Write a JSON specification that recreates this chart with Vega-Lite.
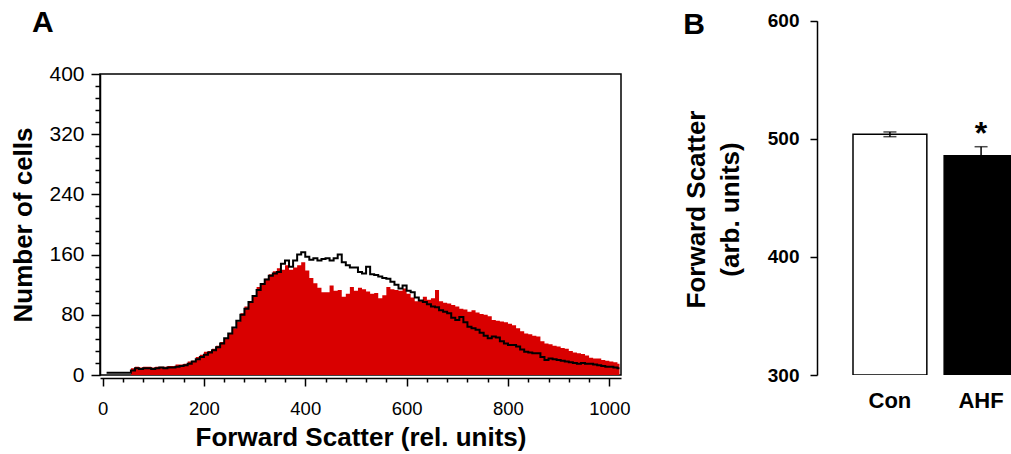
{
  "$schema": "https://vega.github.io/schema/vega-lite/v6.json",
  "padding": {"left": 10, "top": 7, "right": 0, "bottom": 0},
  "spacing": 52,
  "config": {
    "font": "Liberation Sans",
    "view": {"stroke": null},
    "axis": {"domainColor": "black", "tickColor": "black", "labelColor": "black", "titleColor": "black", "grid": false, "labelFont": "Liberation Sans", "titleFont": "Liberation Sans"},
    "title": {"font": "Liberation Sans", "fontSize": 30, "fontWeight": "bold", "color": "black", "anchor": "start", "baseline": "alphabetic"}
  },
  "datasets": {
    "con": [
      {"fsc":8,"cells":3},{"fsc":16,"cells":3},{"fsc":24,"cells":3},{"fsc":32,"cells":3},{"fsc":40,"cells":3},{"fsc":48,"cells":3},{"fsc":56,"cells":6},{"fsc":64,"cells":9},{"fsc":72,"cells":8},{"fsc":80,"cells":9},{"fsc":88,"cells":9},{"fsc":96,"cells":8},{"fsc":104,"cells":9},{"fsc":112,"cells":10},{"fsc":120,"cells":9},{"fsc":128,"cells":10},{"fsc":136,"cells":10},{"fsc":144,"cells":11},{"fsc":152,"cells":12},{"fsc":160,"cells":13},{"fsc":168,"cells":15},{"fsc":176,"cells":18},{"fsc":184,"cells":21},{"fsc":192,"cells":24},{"fsc":200,"cells":27},{"fsc":208,"cells":30},{"fsc":216,"cells":33},{"fsc":224,"cells":37},{"fsc":232,"cells":42},{"fsc":240,"cells":49},{"fsc":248,"cells":55},{"fsc":256,"cells":63},{"fsc":264,"cells":72},{"fsc":272,"cells":80},{"fsc":280,"cells":88},{"fsc":288,"cells":97},{"fsc":296,"cells":105},{"fsc":304,"cells":113},{"fsc":312,"cells":121},{"fsc":320,"cells":127},{"fsc":328,"cells":132},{"fsc":336,"cells":135},{"fsc":344,"cells":137},{"fsc":352,"cells":148},{"fsc":360,"cells":152},{"fsc":368,"cells":144},{"fsc":376,"cells":152},{"fsc":384,"cells":160},{"fsc":392,"cells":163},{"fsc":400,"cells":157},{"fsc":408,"cells":153},{"fsc":416,"cells":155},{"fsc":424,"cells":152},{"fsc":432,"cells":154},{"fsc":440,"cells":155},{"fsc":448,"cells":152},{"fsc":456,"cells":155},{"fsc":464,"cells":160},{"fsc":472,"cells":150},{"fsc":480,"cells":146},{"fsc":488,"cells":143},{"fsc":496,"cells":143},{"fsc":504,"cells":137},{"fsc":512,"cells":135},{"fsc":520,"cells":144},{"fsc":528,"cells":134},{"fsc":536,"cells":133},{"fsc":544,"cells":131},{"fsc":552,"cells":129},{"fsc":560,"cells":128},{"fsc":568,"cells":124},{"fsc":576,"cells":120},{"fsc":584,"cells":115},{"fsc":592,"cells":119},{"fsc":600,"cells":112},{"fsc":608,"cells":110},{"fsc":616,"cells":103},{"fsc":624,"cells":99},{"fsc":632,"cells":97},{"fsc":640,"cells":94},{"fsc":648,"cells":91},{"fsc":656,"cells":90},{"fsc":664,"cells":86},{"fsc":672,"cells":84},{"fsc":680,"cells":82},{"fsc":688,"cells":76},{"fsc":696,"cells":73},{"fsc":704,"cells":77},{"fsc":712,"cells":70},{"fsc":720,"cells":64},{"fsc":728,"cells":62},{"fsc":736,"cells":60},{"fsc":744,"cells":56},{"fsc":752,"cells":52},{"fsc":760,"cells":49},{"fsc":768,"cells":51},{"fsc":776,"cells":50},{"fsc":784,"cells":45},{"fsc":792,"cells":42},{"fsc":800,"cells":40},{"fsc":808,"cells":40},{"fsc":816,"cells":38},{"fsc":824,"cells":34},{"fsc":832,"cells":31},{"fsc":840,"cells":30},{"fsc":848,"cells":29},{"fsc":856,"cells":29},{"fsc":864,"cells":24},{"fsc":872,"cells":20},{"fsc":880,"cells":22},{"fsc":888,"cells":21},{"fsc":896,"cells":20},{"fsc":904,"cells":19},{"fsc":912,"cells":18},{"fsc":920,"cells":17},{"fsc":928,"cells":16},{"fsc":936,"cells":15},{"fsc":944,"cells":16},{"fsc":952,"cells":15},{"fsc":960,"cells":15},{"fsc":968,"cells":14},{"fsc":976,"cells":13},{"fsc":984,"cells":12},{"fsc":992,"cells":11},{"fsc":1000,"cells":11},{"fsc":1008,"cells":10},{"fsc":1016,"cells":9},{"fsc":1020,"cells":9}
    ],
    "ahf": [
      {"fsc":56,"cells":9},{"fsc":64,"cells":11},{"fsc":72,"cells":10},{"fsc":80,"cells":11},{"fsc":88,"cells":11},{"fsc":96,"cells":10},{"fsc":104,"cells":11},{"fsc":112,"cells":11},{"fsc":120,"cells":11},{"fsc":128,"cells":12},{"fsc":136,"cells":12},{"fsc":144,"cells":14},{"fsc":152,"cells":14},{"fsc":160,"cells":15},{"fsc":168,"cells":18},{"fsc":176,"cells":19},{"fsc":184,"cells":24},{"fsc":192,"cells":27},{"fsc":200,"cells":31},{"fsc":208,"cells":32},{"fsc":216,"cells":35},{"fsc":224,"cells":39},{"fsc":232,"cells":44},{"fsc":240,"cells":48},{"fsc":248,"cells":55},{"fsc":256,"cells":62},{"fsc":264,"cells":71},{"fsc":272,"cells":82},{"fsc":280,"cells":91},{"fsc":288,"cells":97},{"fsc":296,"cells":104},{"fsc":304,"cells":117},{"fsc":312,"cells":122},{"fsc":320,"cells":128},{"fsc":328,"cells":134},{"fsc":336,"cells":138},{"fsc":344,"cells":142},{"fsc":352,"cells":140},{"fsc":360,"cells":146},{"fsc":368,"cells":140},{"fsc":376,"cells":143},{"fsc":384,"cells":146},{"fsc":392,"cells":150},{"fsc":400,"cells":139},{"fsc":408,"cells":129},{"fsc":416,"cells":122},{"fsc":424,"cells":116},{"fsc":432,"cells":110},{"fsc":440,"cells":110},{"fsc":448,"cells":119},{"fsc":456,"cells":112},{"fsc":464,"cells":113},{"fsc":472,"cells":104},{"fsc":480,"cells":108},{"fsc":488,"cells":117},{"fsc":496,"cells":112},{"fsc":504,"cells":116},{"fsc":512,"cells":114},{"fsc":520,"cells":111},{"fsc":528,"cells":108},{"fsc":536,"cells":109},{"fsc":544,"cells":102},{"fsc":552,"cells":106},{"fsc":560,"cells":117},{"fsc":568,"cells":114},{"fsc":576,"cells":113},{"fsc":584,"cells":112},{"fsc":592,"cells":115},{"fsc":600,"cells":108},{"fsc":608,"cells":103},{"fsc":616,"cells":98},{"fsc":624,"cells":99},{"fsc":632,"cells":104},{"fsc":640,"cells":100},{"fsc":648,"cells":102},{"fsc":656,"cells":113},{"fsc":664,"cells":98},{"fsc":672,"cells":96},{"fsc":680,"cells":95},{"fsc":688,"cells":93},{"fsc":696,"cells":91},{"fsc":704,"cells":88},{"fsc":712,"cells":87},{"fsc":720,"cells":84},{"fsc":728,"cells":86},{"fsc":736,"cells":83},{"fsc":744,"cells":81},{"fsc":752,"cells":80},{"fsc":760,"cells":78},{"fsc":768,"cells":73},{"fsc":776,"cells":72},{"fsc":784,"cells":71},{"fsc":792,"cells":70},{"fsc":800,"cells":68},{"fsc":808,"cells":66},{"fsc":816,"cells":62},{"fsc":824,"cells":58},{"fsc":832,"cells":55},{"fsc":840,"cells":54},{"fsc":848,"cells":52},{"fsc":856,"cells":51},{"fsc":864,"cells":45},{"fsc":872,"cells":42},{"fsc":880,"cells":41},{"fsc":888,"cells":39},{"fsc":896,"cells":38},{"fsc":904,"cells":36},{"fsc":912,"cells":35},{"fsc":920,"cells":32},{"fsc":928,"cells":30},{"fsc":936,"cells":29},{"fsc":944,"cells":28},{"fsc":952,"cells":26},{"fsc":960,"cells":23},{"fsc":968,"cells":22},{"fsc":976,"cells":22},{"fsc":984,"cells":20},{"fsc":992,"cells":19},{"fsc":1000,"cells":18},{"fsc":1008,"cells":17},{"fsc":1016,"cells":15},{"fsc":1020,"cells":15}
    ],
    "bars": [
      {"group": "Con", "mean": 503.8, "lo": 501.8, "hi": 505.8},
      {"group": "AHF", "mean": 485.6, "lo": 477.9, "hi": 493.3}
    ]
  },
  "hconcat": [
    {
      "width": 521,
      "height": 301,
      "view": {"stroke": "black", "strokeWidth": 1.5},
      "title": {"text": "A", "offset": 25, "dx": 21},
      "encoding": {
        "x": {"field": "fsc", "type": "quantitative",
          "scale": {"domain": [-5, 1023], "nice": false, "zero": false},
          "axis": {"title": "Forward Scatter (rel. units)",
            "values": [0,40,80,120,160,200,240,280,320,360,400,440,480,520,560,600,640,680,720,760,800,840,880,920,960,1000],
            "labelExpr": "datum.value % 200 === 0 ? '' + datum.value : ''",
            "tickSize": {"condition": {"test": "datum.value % 200 === 0", "value": 8}, "value": 4},
            "offset": 3, "labelFontSize": 18.5, "labelPadding": 13, "labelOverlap": false, "labelFlush": false,
            "titleFontSize": 26, "titleFontWeight": "bold", "titlePadding": 7,
            "domainWidth": 1.5, "tickWidth": 1.5}},
        "y": {"field": "cells", "type": "quantitative",
          "scale": {"domain": [0, 400], "nice": false},
          "axis": {"title": "Number of cells",
            "values": [0,16,32,48,64,80,96,112,128,144,160,176,192,208,224,240,256,272,288,304,320,336,352,368,384,400],
            "labelExpr": "datum.value % 80 === 0 ? datum.label : ''",
            "tickSize": {"condition": {"test": "datum.value % 80 === 0", "value": 9}, "value": 5},
            "labelFontSize": 21, "labelPadding": 7, "labelOverlap": false, "labelFlush": false,
            "titleFontSize": 26, "titleFontWeight": "bold", "titlePadding": 12,
            "domainWidth": 1.5, "tickWidth": 1.5}}
      },
      "layer": [
        {"data": {"name": "ahf"}, "mark": {"type": "area", "interpolate": "step-after", "color": "#d90000"}},
        {"data": {"name": "con"}, "mark": {"type": "line", "interpolate": "step-after", "color": "black", "strokeWidth": 2}}
      ]
    },
    {
      "width": 196,
      "height": 301,
      "title": {"text": "B", "offset": -28, "dx": 0},
      "data": {"name": "bars"},
      "encoding": {
        "x": {"field": "group", "type": "nominal", "sort": ["Con", "AHF"],
          "scale": {"range": [36, 201], "paddingInner": 0.19, "paddingOuter": 0},
          "axis": {"title": null, "domain": false, "ticks": false, "tickSize": 0, "labelAngle": 0,
            "labelFontSize": 22, "labelFontWeight": "bold", "labelPadding": 15}}
      },
      "layer": [
        {"mark": {"type": "bar", "stroke": "black", "strokeWidth": 1.5, "clip": true},
          "encoding": {
            "y": {"field": "mean", "type": "quantitative",
              "scale": {"domain": [300, 600], "nice": false, "zero": false, "range": [301, -53.3]},
              "axis": {"title": ["Forward Scatter", "(arb. units)"], "values": [300, 400, 500, 600],
                "tickSize": 7, "labelFontSize": 19, "labelFontWeight": "bold", "labelPadding": 11,
                "titleFontSize": 26, "titleFontWeight": "bold", "titlePadding": 24, "titleLineHeight": 34, "titleY": 135,
                "domainWidth": 1.5, "tickWidth": 1.5}},
            "y2": {"datum": 300},
            "fill": {"field": "group", "type": "nominal", "scale": {"domain": ["Con", "AHF"], "range": ["white", "black"]}, "legend": null}
          }},
        {"mark": {"type": "rule", "strokeWidth": 1.5, "color": "black"},
          "encoding": {"y": {"field": "lo", "type": "quantitative"}, "y2": {"field": "hi"}}},
        {"mark": {"type": "tick", "thickness": 1.5, "size": 13, "color": "black"},
          "encoding": {"y": {"field": "hi", "type": "quantitative"}}},
        {"mark": {"type": "tick", "thickness": 1.5, "size": 13, "color": "black"},
          "encoding": {"y": {"field": "lo", "type": "quantitative"}}},
        {"transform": [{"filter": "datum.group === 'AHF'"}],
          "mark": {"type": "text", "text": "*", "fontSize": 32, "fontWeight": "bold", "baseline": "alphabetic", "dy": -3, "color": "black"},
          "encoding": {"y": {"field": "hi", "type": "quantitative"}}}
      ]
    }
  ]
}
